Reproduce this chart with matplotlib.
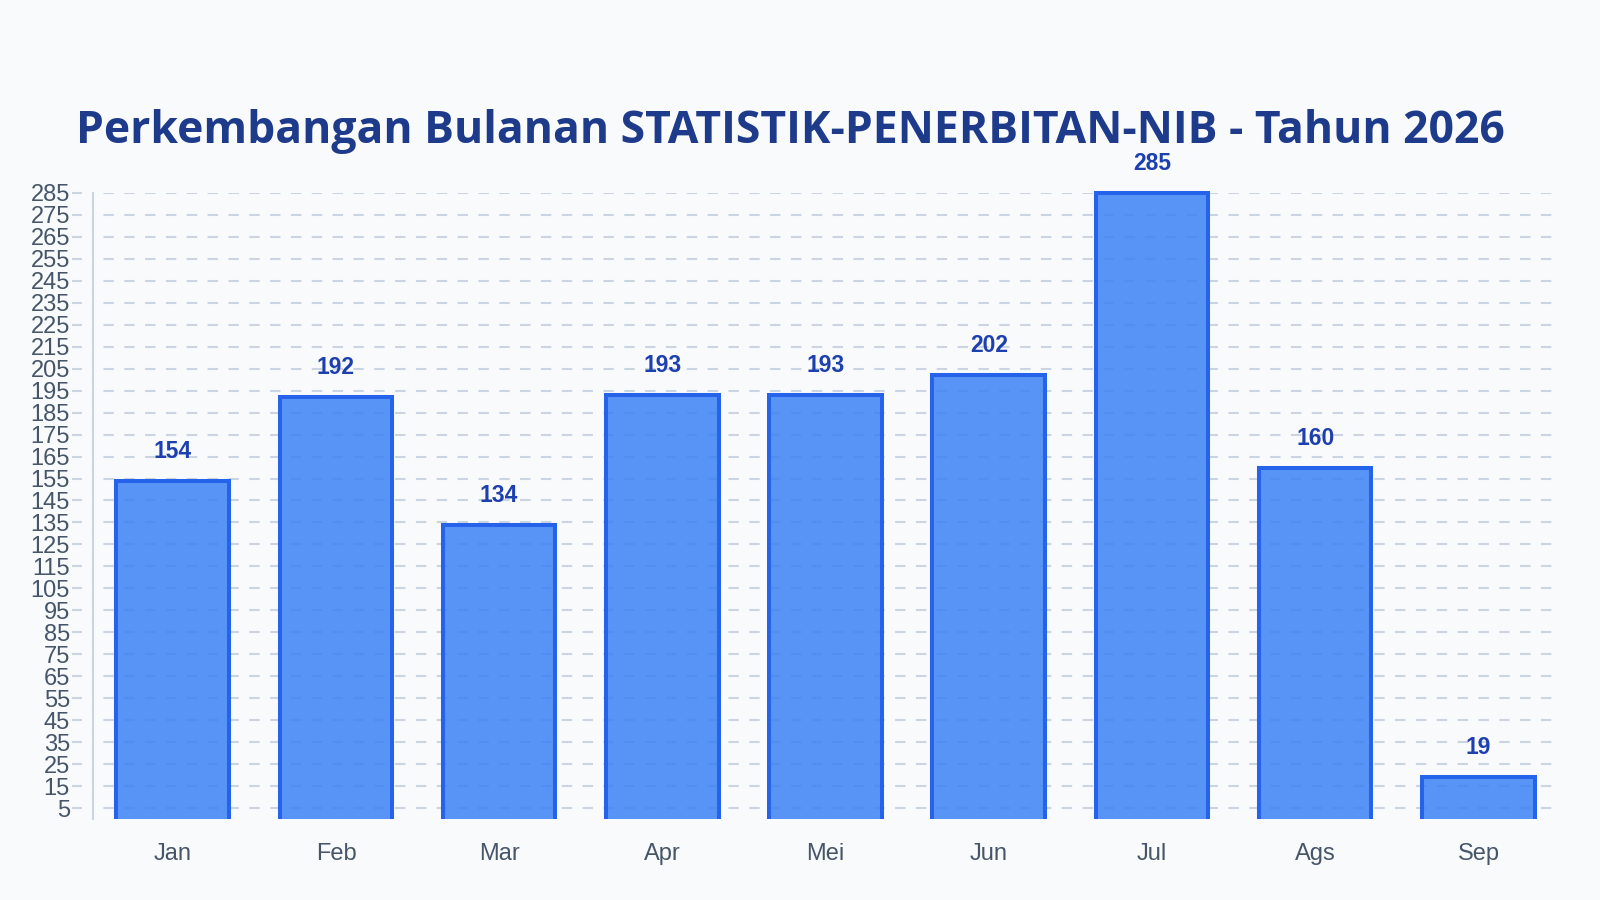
import numpy as np
import matplotlib
matplotlib.use("Agg")
import matplotlib.pyplot as plt
import matplotlib.transforms as mtransforms
from matplotlib.colors import to_rgba

# --- data ---
bulan = ["Jan", "Feb", "Mar", "Apr", "Mei", "Jun", "Jul", "Ags", "Sep"]
jumlah = [154, 192, 134, 193, 193, 202, 285, 160, 19]
y_ticks = list(range(5, 286, 10))
judul = "Perkembangan Bulanan STATISTIK-PENERBITAN-NIB - Tahun 2026"

BG = "#f8fafc"
GRID = "#cbd5e1"
TICK_TXT = "#475569"
EDGE = "#2563eb"

fig = plt.figure(figsize=(16, 9), dpi=100, facecolor=BG)
ax = fig.add_axes([0.058, 0.09, 0.917, 0.6956], facecolor=BG)

x = np.arange(len(bulan))
ax.set_axisbelow(True)
ax.grid(axis="y", color=GRID, linewidth=1.5, linestyle=(5, (5, 5)))

bars = ax.bar(x, jumlah, width=0.69, color=to_rgba("#3b82f6", 0.85),
              linewidth=0, zorder=2)
# outline on three sides (no bottom edge)
for b in bars:
    x0, w, h = b.get_x(), b.get_width(), b.get_height()
    ax.plot([x0, x0, x0 + w, x0 + w], [0, h, h, 0], color=EDGE,
            linewidth=2.9, solid_joinstyle="miter", solid_capstyle="butt",
            zorder=3, clip_on=False)

for xi, v in zip(x, jumlah):
    ax.annotate(str(v), (xi, v), xytext=(0, 16.5), textcoords="offset points",
                ha="center", va="baseline", fontsize=16.5, fontweight="bold",
                color="#1e40af", family="Liberation Sans", annotation_clip=False)

ax.set_xlim(-0.49, len(bulan) - 0.5)
ax.set_ylim(0, 285)
ax.set_xticks(x)
ax.set_xticklabels(bulan)
ax.set_yticks(y_ticks)

for lab in ax.get_xticklabels() + ax.get_yticklabels():
    lab.set_family("Liberation Sans")
    lab.set_fontsize(17)
    lab.set_color(TICK_TXT)
ax.tick_params(axis="x", length=0, pad=17)
ax.tick_params(axis="y", length=0, pad=16.5)

# small tick dashes left of the axis line
trans = mtransforms.blended_transform_factory(ax.transAxes, ax.transData)
ax.hlines(y_ticks, -0.0143, -0.0075, transform=trans, color=GRID,
          linewidth=1.5, clip_on=False)

for s in ["top", "right", "bottom"]:
    ax.spines[s].set_visible(False)
ax.spines["left"].set_color(GRID)
ax.spines["left"].set_linewidth(1.5)

fig.text(0.494, 0.8408, judul, ha="center", va="baseline", fontsize=32,
         fontweight="bold", color="#1e3a8a", family=["Open Sans", "Noto Sans", "DejaVu Sans"])

fig.savefig("out.png", dpi=100, facecolor=BG)
